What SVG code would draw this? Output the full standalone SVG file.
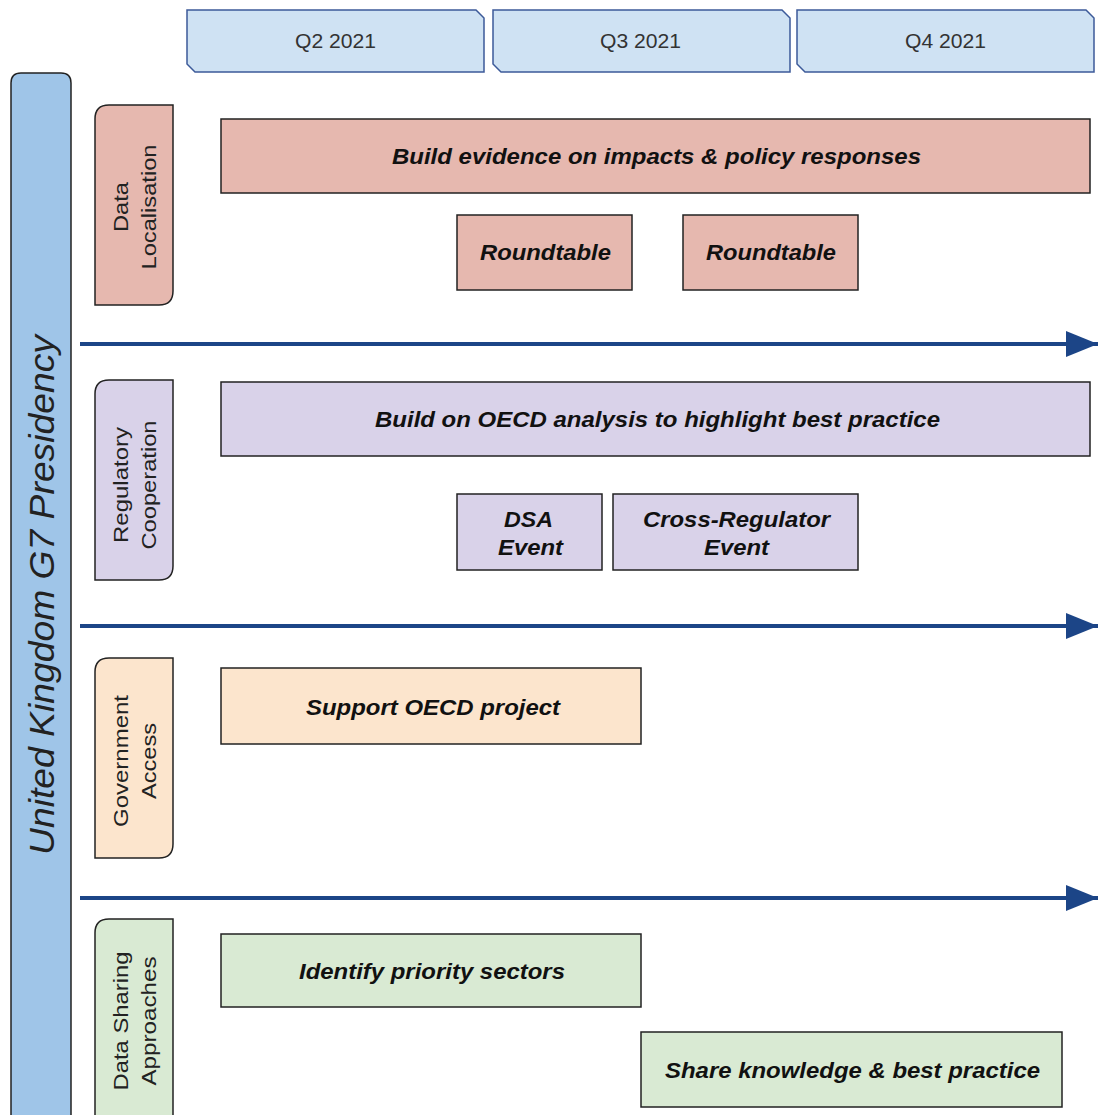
<svg xmlns="http://www.w3.org/2000/svg" width="1098" height="1115" viewBox="0 0 1098 1115">
<defs>
<style>
.hdr{fill:#cfe2f3;stroke:#3c5a99;stroke-width:1.5}
.hdrt{font-family:"Liberation Sans",Arial,sans-serif;font-size:20px;fill:#333;text-anchor:middle}
.cat{stroke:#222;stroke-width:1.5}
.catt{font-family:"Liberation Sans",Arial,sans-serif;font-size:21px;fill:#222;text-anchor:middle}
.task{stroke:#222;stroke-width:1.5}
.taskt{font-family:"Liberation Sans",Arial,sans-serif;font-size:22px;font-weight:bold;font-style:italic;fill:#111;text-anchor:middle}
.arr{stroke:#1c4587;stroke-width:4;fill:none}
.red{fill:#e6b8af}.pur{fill:#d9d2e9}.org{fill:#fce5cd}.grn{fill:#d9ead3}
</style>
<marker id="ah" markerUnits="userSpaceOnUse" markerWidth="34" markerHeight="30" refX="32" refY="15" orient="auto">
<path d="M0,2 L32,15 L0,28 Z" fill="#1c4587"/>
</marker>
</defs>

<g id="q2"><path class="hdr" d="M187,10 H476 L484,18 V72 H195 L187,64 Z"/><text class="hdrt" x="335.5" y="48" textLength="81" lengthAdjust="spacingAndGlyphs">Q2 2021</text></g>
<g id="q3"><path class="hdr" d="M493,10 H782 L790,18 V72 H501 L493,64 Z"/><text class="hdrt" x="640.5" y="48" textLength="81" lengthAdjust="spacingAndGlyphs">Q3 2021</text></g>
<g id="q4"><path class="hdr" d="M797,10 H1086 L1094,18 V72 H805 L797,64 Z"/><text class="hdrt" x="945.5" y="48" textLength="81" lengthAdjust="spacingAndGlyphs">Q4 2021</text></g>

<g id="presidency">
<path d="M11,1120 V83 Q11,73 21,73 H61 Q71,73 71,83 V1120 Z" fill="#9fc5e8" stroke="#222" stroke-width="1.5"/>
<text transform="translate(54,595) rotate(-90)" font-family="Liberation Sans,Arial,sans-serif" font-size="35" font-style="italic" fill="#222" text-anchor="middle" textLength="520" lengthAdjust="spacingAndGlyphs">United Kingdom G7 Presidency</text>
</g>

<g id="cat-dl">
<path class="cat red" d="M109,105 H173 V291 Q173,305 159,305 H95 V119 Q95,105 109,105 Z"/>
<text class="catt" transform="translate(128,207) rotate(-90)"><tspan x="0" y="0" textLength="50" lengthAdjust="spacingAndGlyphs">Data</tspan><tspan x="0" y="28" textLength="125" lengthAdjust="spacingAndGlyphs">Localisation</tspan></text>
</g>
<g id="cat-rc">
<path class="cat pur" d="M109,380 H173 V566 Q173,580 159,580 H95 V394 Q95,380 109,380 Z"/>
<text class="catt" transform="translate(128,485) rotate(-90)"><tspan x="0" y="0" textLength="116" lengthAdjust="spacingAndGlyphs">Regulatory</tspan><tspan x="0" y="28" textLength="129" lengthAdjust="spacingAndGlyphs">Cooperation</tspan></text>
</g>
<g id="cat-ga">
<path class="cat org" d="M109,658 H173 V844 Q173,858 159,858 H95 V672 Q95,658 109,658 Z"/>
<text class="catt" transform="translate(128,761) rotate(-90)"><tspan x="0" y="0" textLength="132" lengthAdjust="spacingAndGlyphs">Government</tspan><tspan x="0" y="28" textLength="76" lengthAdjust="spacingAndGlyphs">Access</tspan></text>
</g>
<g id="cat-ds">
<path class="cat grn" d="M109,919 H173 V1120 H95 V933 Q95,919 109,919 Z"/>
<text class="catt" transform="translate(128,1021) rotate(-90)"><tspan x="0" y="0" textLength="139" lengthAdjust="spacingAndGlyphs">Data Sharing</tspan><tspan x="0" y="28" textLength="129" lengthAdjust="spacingAndGlyphs">Approaches</tspan></text>
</g>

<g id="connectors">
<line class="arr" x1="80" y1="344" x2="1098" y2="344" marker-end="url(#ah)"/>
<line class="arr" x1="80" y1="626" x2="1098" y2="626" marker-end="url(#ah)"/>
<line class="arr" x1="80" y1="898" x2="1098" y2="898" marker-end="url(#ah)"/>
</g>

<g id="t-evidence"><rect class="task red" x="221" y="119" width="869" height="74"/><text class="taskt" x="656.5" y="164" textLength="529" lengthAdjust="spacingAndGlyphs">Build evidence on impacts &amp; policy responses</text></g>
<g id="t-rt1"><rect class="task red" x="457" y="215" width="175" height="75"/><text class="taskt" x="545.5" y="260" textLength="131" lengthAdjust="spacingAndGlyphs">Roundtable</text></g>
<g id="t-rt2"><rect class="task red" x="683" y="215" width="175" height="75"/><text class="taskt" x="771" y="260" textLength="130" lengthAdjust="spacingAndGlyphs">Roundtable</text></g>

<g id="t-oecd"><rect class="task pur" x="221" y="382" width="869" height="74"/><text class="taskt" x="657.5" y="427" textLength="565" lengthAdjust="spacingAndGlyphs">Build on OECD analysis to highlight best practice</text></g>
<g id="t-dsa"><rect class="task pur" x="457" y="494" width="145" height="76"/><text class="taskt" x="528.5" y="527" textLength="49" lengthAdjust="spacingAndGlyphs">DSA</text><text class="taskt" x="530.5" y="555" textLength="65" lengthAdjust="spacingAndGlyphs">Event</text></g>
<g id="t-cross"><rect class="task pur" x="613" y="494" width="245" height="76"/><text class="taskt" x="736.5" y="527" textLength="187" lengthAdjust="spacingAndGlyphs">Cross-Regulator</text><text class="taskt" x="736.5" y="555" textLength="65" lengthAdjust="spacingAndGlyphs">Event</text></g>

<g id="t-support"><rect class="task org" x="221" y="668" width="420" height="76"/><text class="taskt" x="433" y="715" textLength="254" lengthAdjust="spacingAndGlyphs">Support OECD project</text></g>

<g id="t-identify"><rect class="task grn" x="221" y="934" width="420" height="73"/><text class="taskt" x="432" y="979" textLength="266" lengthAdjust="spacingAndGlyphs">Identify priority sectors</text></g>
<g id="t-share"><rect class="task grn" x="641" y="1032" width="421" height="75"/><text class="taskt" x="852.5" y="1078" textLength="375" lengthAdjust="spacingAndGlyphs">Share knowledge &amp; best practice</text></g>
</svg>
